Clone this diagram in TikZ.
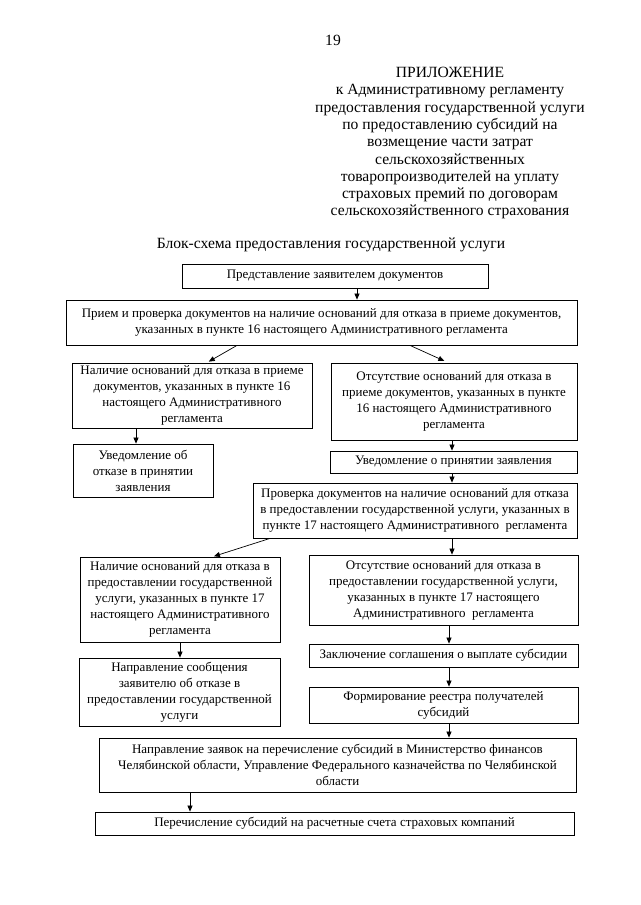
\documentclass[tikz,border=0pt]{standalone}
\usepackage{fontspec}
\setmainfont{Liberation Serif}
\usetikzlibrary{arrows.meta}
\begin{document}
\begin{tikzpicture}[x=1pt,y=-1pt,
  box/.style={draw, line width=0.8pt, align=center, inner sep=2pt,
    font=\fontsize{13}{16}\selectfont},
  arr/.style={line width=0.7pt, -{Triangle[length=6pt,width=5pt]}},
  hdr/.style={align=center, inner sep=0pt, font=\fontsize{15.6}{17.3}\selectfont}]
\useasboundingbox (0,0) rectangle (640,905);
\fill[white] (0,0) rectangle (640,905);
% page number and header
\node[hdr] (num) at (333,40) {19};
\node[hdr, anchor=north] (head) at (450,67) {ПРИЛОЖЕНИЕ\\
к Административному регламенту\\
предоставления государственной услуги\\
по предоставлению субсидий на\\
возмещение части затрат\\
сельскохозяйственных\\
товаропроизводителей на уплату\\
страховых премий по договорам\\
сельскохозяйственного страхования};
\node[hdr] (title) at (331,245) {Блок-схема предоставления государственной услуги};
% boxes
\node[box, minimum width=306, minimum height=24] (b1) at (335,276) {Представление заявителем документов};
\node[box, minimum width=511, minimum height=45] (b2) at (321.5,322.5) {Прием и проверка документов на наличие оснований для отказа в приеме документов,\\ указанных в пункте 16 настоящего Административного регламента};
\node[box, minimum width=240, minimum height=65] (b3) at (192,395.5) {Наличие оснований для отказа в приеме\\документов, указанных в пункте 16\\настоящего Административного\\регламента};
\node[box, minimum width=246, minimum height=77] (b4) at (454,401.5) {Отсутствие оснований для отказа в\\приеме документов, указанных в пункте\\16 настоящего Административного\\регламента};
\node[box, minimum width=140, minimum height=53] (b5) at (143,470.5) {Уведомление об\\отказе в принятии\\заявления};
\node[box, minimum width=247, minimum height=22] (b6) at (453.5,462) {Уведомление о принятии заявления};
\node[box, minimum width=324, minimum height=55] (b7) at (415,510.5) {Проверка документов на наличие оснований для отказа\\в предоставлении государственной услуги, указанных в\\пункте 17 настоящего Административного\ \ регламента};
\node[box, minimum width=200, minimum height=85] (b8) at (180,599.5) {Наличие оснований для отказа в\\предоставлении государственной\\услуги, указанных в пункте 17\\настоящего Административного\\регламента};
\node[box, minimum width=269, minimum height=70] (b9) at (443.5,590) {Отсутствие оснований для отказа в\\предоставлении государственной услуги,\\указанных в пункте 17 настоящего\\Административного\ \ регламента};
\node[box, minimum width=269, minimum height=23] (b10) at (443.5,655.5) {Заключение соглашения о выплате субсидии};
\node[box, minimum width=201, minimum height=68] (b11) at (179.5,692) {Направление сообщения\\заявителю об отказе в\\предоставлении государственной\\услуги};
\node[box, minimum width=269, minimum height=36] (b12) at (443.5,705) {Формирование реестра получателей\\субсидий};
\node[box, minimum width=477, minimum height=54] (b13) at (337.5,765) {Направление заявок на перечисление субсидий в Министерство финансов\\Челябинской области, Управление Федерального казначейства по Челябинской\\области};
\node[box, minimum width=479, minimum height=23] (b14) at (334.5,823.5) {Перечисление субсидий на расчетные счета страховых компаний};
% column coordinates
\coordinate (c357) at (357,0);
\coordinate (c237) at (237,0);
\coordinate (c207) at (207,0);
\coordinate (c410) at (410,0);
\coordinate (c448) at (448,0);
\coordinate (c136) at (136,0);
\coordinate (c452) at (452,0);
\coordinate (c270) at (270,0);
\coordinate (c213) at (213,0);
\coordinate (c180) at (180,0);
\coordinate (c449) at (449,0);
\coordinate (c190) at (190,0);
% connectors
\draw[arr] (b1.south -| c357) -- (b2.north -| c357);
\draw[arr, shorten >=2pt] (b2.south -| c237) -- (b3.north -| c207);
\draw[arr, shorten >=4pt] (b2.south -| c410) -- (b4.north -| c448);
\draw[arr] (b3.south -| c136) -- (b5.north -| c136);
\draw[arr] (b4.south -| c452) -- (b6.north -| c452);
\draw[arr] (b6.south -| c452) -- (b7.north -| c452);
\draw[arr, shorten >=1pt] (b7.south -| c270) -- (b8.north -| c213);
\draw[arr] (b7.south -| c452) -- (b9.north -| c452);
\draw[arr] (b8.south -| c180) -- (b11.north -| c180);
\draw[arr] (b9.south -| c449) -- (b10.north -| c449);
\draw[arr] (b10.south -| c449) -- (b12.north -| c449);
\draw[arr] (b12.south -| c449) -- (b13.north -| c449);
\draw[arr] (b13.south -| c190) -- (b14.north -| c190);
\end{tikzpicture}
\end{document}
